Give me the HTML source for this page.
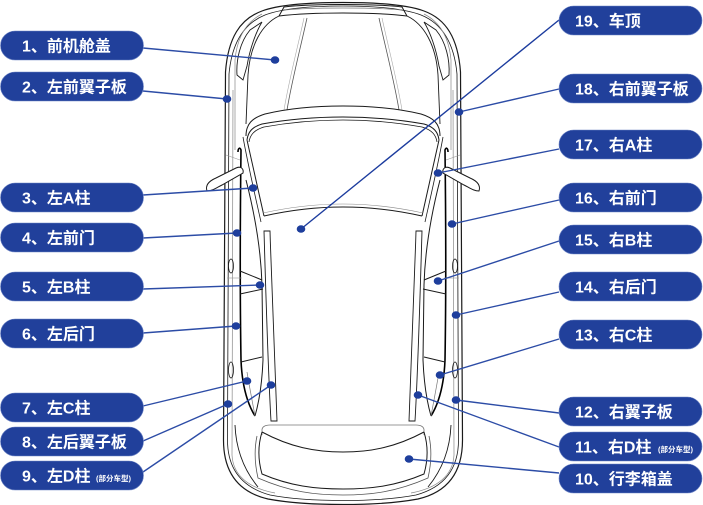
<!DOCTYPE html>
<html>
<head>
<meta charset="utf-8">
<style>
html,body{margin:0;padding:0;background:#fff;}
svg{display:block;}
.t{font-family:"Liberation Sans","Noto Sans CJK SC",sans-serif;font-size:16px;font-weight:bold;fill:#fff;}
.s{font-family:"Liberation Sans","Noto Sans CJK SC",sans-serif;font-size:7.5px;font-weight:bold;fill:#fff;}
</style>
</head>
<body>
<svg width="703" height="505" viewBox="0 0 703 505" xmlns="http://www.w3.org/2000/svg">
<rect width="703" height="505" fill="#fff"/>
<defs>
<g id="half" fill="none" stroke="#1a1a1a" stroke-width="1">
  <!-- outer body -->
  <path d="M343,2.5 C305,2.5 278,5 262,11 C240,19 228,38 225.5,72 L223.5,440 C223.5,472 238,492 268,499 C295,504 325,504.5 343,504.5" stroke-width="1.2"/>
  <path d="M343,6 C306,6 281,9 265,15 C245,23 232,41 229,74 L227.5,440 C227.5,468 241,487 270,495 C296,500 325,500.5 343,500.5" stroke-width="0.8"/>
  <path d="M233,90 L232,455 C233,475 248,488 275,493" stroke="#888" stroke-width="0.7"/>
  <!-- grille -->
  <path d="M279,16 L284,7 C300,5 320,4.5 343,4.5"/>
  <path d="M279,16 C300,13.5 320,13 343,13"/>
  <path d="M285,10 C305,8 325,8 343,8" stroke="#777" stroke-width="0.7"/>
  <!-- hood side -->
  <path d="M279,16 C262,24 250,45 248,75 L246,124" stroke-width="0.9"/>
  <path d="M262,14 C246,22 237,38 235,60 L235,150" stroke="#888" stroke-width="0.7"/>
  <path d="M237,75 C236,60 240,42 250,30 L262,22 C256,32 250,48 247,66 L243,80 Z" fill="#fff" stroke-width="0.9"/>
  <!-- hood crease -->
  <path d="M307,18 C300,50 292,80 287,110" stroke="#555" stroke-width="0.8"/>
  <path d="M304,18 C297,50 289,80 284,110" stroke="#aaa" stroke-width="0.6"/>
  <!-- hood rear edge & windshield -->
  <path d="M246,136 C246,124 252,118 265,114 C290,108 318,106 343,106"/>
  <path d="M247,140 C248,132 252,127 262,124 C290,119 318,117 343,117"/>
  <path d="M249,142 C250,135 254,130 264,127 C292,122 318,120 343,120" stroke-width="0.8"/>
  <path d="M247,140 L264,216"/>
  <path d="M243,137 C248,165 255,195 261,222" stroke-width="0.8"/>
  <path d="M264,216 C295,209 320,207 343,207"/>
  <path d="M263,213 C295,206 320,204 343,204" stroke="#888" stroke-width="0.6"/>
  <!-- side window -->
  <path d="M238,152 C238,148 240,147 241,150 C240,230 240,300 241,360 C242,385 247,403 255,416" stroke="#000" stroke-width="1.6"/>
  <path d="M246,180 C255,215 261,250 262,285 L263,360 C262,385 259,402 255,416"/>
  <path d="M240,271 L262,280"/>
  <path d="M240,294 L263,289"/>
  <path d="M241,362 L262,357"/>
  <path d="M247,372 C250,390 253,405 255,416" stroke="#777" stroke-width="0.7"/>
  <!-- roof rail -->
  <path d="M264,231 C266,300 268,370 271,421 L277,421 C275,370 272,300 270,231 Z" stroke-width="0.9"/>
  <!-- rear window / trunk -->
  <path d="M262,435 L262,430 C262,427 265,425 270,425 L343,425" stroke="#777" stroke-width="0.8"/>
  <path d="M262,432 C290,447 315,452 343,452"/>
  <path d="M262,432 C258,445 258,460 262,474 C290,486 315,489 343,489"/>
  <path d="M257,436 C254,450 255,465 258,478 C290,492 315,495 343,495" stroke="#555" stroke-width="0.8"/>
  <path d="M235,425 C236,450 244,470 258,487" stroke-width="0.9"/>
  <!-- mirror -->
  <path d="M207,191 C205,185 209,181 216,178 L236,168 C240,166 244,168 243,173 L222,185 C216,188 212,191 207,191 Z" fill="#fff" stroke-width="1"/>
  <!-- handles, seams -->
  <ellipse cx="231" cy="266" rx="2.5" ry="7" stroke-width="0.8"/>
  <ellipse cx="231" cy="370" rx="2.5" ry="8" stroke-width="0.8"/>
  <path d="M226,155 L240,160" stroke="#999" stroke-width="0.6"/>
  <path d="M227,278 L242,278" stroke="#999" stroke-width="0.6"/>
</g>
</defs>
<use href="#half"/>
<use href="#half" transform="translate(686,0) scale(-1,1)"/>

<!-- connectors -->
<g stroke="#2c4ca6" stroke-width="1.4" fill="none">
  <line x1="143" y1="48" x2="275" y2="60"/>
  <line x1="143" y1="91" x2="227" y2="99"/>
  <line x1="143" y1="195" x2="253" y2="188"/>
  <line x1="143" y1="238" x2="237" y2="233"/>
  <line x1="143" y1="289" x2="260" y2="285"/>
  <line x1="143" y1="333" x2="236" y2="326"/>
  <line x1="143" y1="406" x2="247" y2="381"/>
  <line x1="143" y1="441" x2="228" y2="404"/>
  <line x1="143" y1="472" x2="271" y2="385"/>
  <line x1="559" y1="20" x2="301" y2="229" stroke="#1c3c9e"/>
  <line x1="559" y1="89" x2="459" y2="112"/>
  <line x1="559" y1="149" x2="438" y2="173"/>
  <line x1="559" y1="200" x2="452" y2="224"/>
  <line x1="559" y1="241" x2="438" y2="281"/>
  <line x1="559" y1="292" x2="456" y2="315"/>
  <line x1="559" y1="339" x2="440" y2="375"/>
  <line x1="559" y1="413" x2="456" y2="400"/>
  <line x1="559" y1="447" x2="418" y2="395"/>
  <line x1="559" y1="473" x2="409" y2="459"/>
</g>
<g fill="#1e3e9c">
  <ellipse cx="275" cy="60" rx="4.3" ry="3.8"/>
  <ellipse cx="227" cy="99" rx="4.3" ry="3.8"/>
  <ellipse cx="253" cy="188" rx="4.3" ry="3.8"/>
  <ellipse cx="237" cy="233" rx="4.3" ry="3.8"/>
  <ellipse cx="260" cy="285" rx="4.3" ry="3.8"/>
  <ellipse cx="236" cy="326" rx="4.3" ry="3.8"/>
  <ellipse cx="247" cy="381" rx="4.3" ry="3.8"/>
  <ellipse cx="228" cy="404" rx="4.3" ry="3.8"/>
  <ellipse cx="271" cy="385" rx="4.3" ry="3.8"/>
  <ellipse cx="301" cy="229" rx="4.3" ry="3.8"/>
  <ellipse cx="459" cy="112" rx="4.3" ry="3.8"/>
  <ellipse cx="438" cy="173" rx="4.3" ry="3.8"/>
  <ellipse cx="452" cy="224" rx="4.3" ry="3.8"/>
  <ellipse cx="438" cy="281" rx="4.3" ry="3.8"/>
  <ellipse cx="456" cy="315" rx="4.3" ry="3.8"/>
  <ellipse cx="440" cy="375" rx="4.3" ry="3.8"/>
  <ellipse cx="456" cy="400" rx="4.3" ry="3.8"/>
  <ellipse cx="418" cy="395" rx="4.3" ry="3.8"/>
  <ellipse cx="409" cy="459" rx="4.3" ry="3.8"/>
</g>

<!-- pills -->
<g fill="#21409b" stroke="#6f86c6" stroke-width="0.6">
  <rect x="0.5" y="31" width="143" height="29" rx="14.5"/>
  <rect x="0.5" y="72" width="143" height="29" rx="14.5"/>
  <rect x="0.5" y="183" width="143" height="29" rx="14.5"/>
  <rect x="0.5" y="223" width="143" height="29" rx="14.5"/>
  <rect x="0.5" y="272" width="143" height="29" rx="14.5"/>
  <rect x="0.5" y="319" width="143" height="29" rx="14.5"/>
  <rect x="0.5" y="393" width="143" height="29" rx="14.5"/>
  <rect x="0.5" y="427" width="143" height="29" rx="14.5"/>
  <rect x="0.5" y="461" width="143" height="29" rx="14.5"/>
  <rect x="559" y="6" width="143" height="29" rx="14.5"/>
  <rect x="559" y="74" width="143" height="29" rx="14.5"/>
  <rect x="559" y="130" width="143" height="29" rx="14.5"/>
  <rect x="559" y="183" width="143" height="29" rx="14.5"/>
  <rect x="559" y="225" width="143" height="29" rx="14.5"/>
  <rect x="559" y="272" width="143" height="29" rx="14.5"/>
  <rect x="559" y="320" width="143" height="29" rx="14.5"/>
  <rect x="559" y="397" width="143" height="29" rx="14.5"/>
  <rect x="559" y="432" width="143" height="29" rx="14.5"/>
  <rect x="559" y="464" width="143" height="29" rx="14.5"/>
</g>
<g>
  <text class="t" x="22" y="51.5">1、前机舱盖</text>
  <text class="t" x="22" y="92.5">2、左前翼子板</text>
  <text class="t" x="22" y="203.5">3、左A柱</text>
  <text class="t" x="22" y="243.5">4、左前门</text>
  <text class="t" x="22" y="292.5">5、左B柱</text>
  <text class="t" x="22" y="339.5">6、左后门</text>
  <text class="t" x="22" y="413.5">7、左C柱</text>
  <text class="t" x="22" y="447.5">8、左后翼子板</text>
  <text class="t" x="22" y="481.5">9、左D柱</text>
  <text class="s" x="96" y="481">(部分车型)</text>

  <text class="t" x="575" y="26.5">19、车顶</text>
  <text class="t" x="575" y="94.5">18、右前翼子板</text>
  <text class="t" x="575" y="150.5">17、右A柱</text>
  <text class="t" x="575" y="203.5">16、右前门</text>
  <text class="t" x="575" y="245.5">15、右B柱</text>
  <text class="t" x="575" y="292.5">14、右后门</text>
  <text class="t" x="575" y="340.5">13、右C柱</text>
  <text class="t" x="575" y="417.5">12、右翼子板</text>
  <text class="t" x="575" y="452.5">11、右D柱</text>
  <text class="s" x="658" y="452">(部分车型)</text>
  <text class="t" x="575" y="484.5">10、行李箱盖</text>
</g>
</svg>
</body>
</html>
